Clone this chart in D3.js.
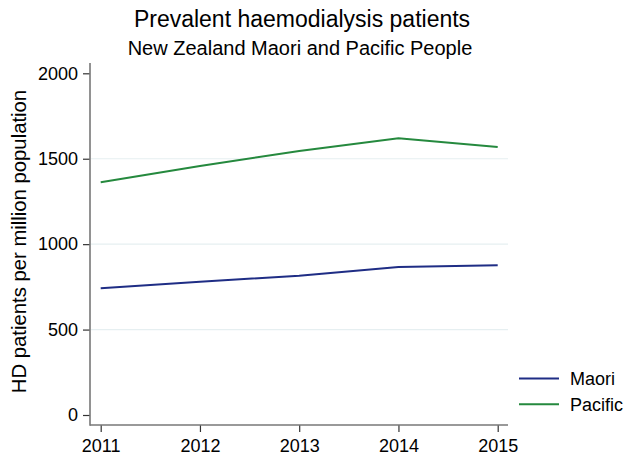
<!DOCTYPE html>
<html>
<head>
<meta charset="utf-8">
<script src="https://cdn.jsdelivr.net/npm/d3@7"></script>
<style>
  body { margin: 0; background: #fff; }
  text { font-family: "Liberation Sans", Arial, sans-serif; fill: #000; }
</style>
</head>
<body>
<svg id="chart" width="628" height="459"></svg>
<script>
var years = [2011, 2012, 2013, 2014, 2015];
var maori = [742, 780, 815, 866, 876];
var pacific = [1362, 1458, 1545, 1620, 1569];
var yTicks = [0, 500, 1000, 1500, 2000];
var gridTicks = [500, 1000, 1500];

var series = [
  { name: "Maori", values: maori, color: "#1f2d85" },
  { name: "Pacific", values: pacific, color: "#25893e" }
];

var svg = d3.select("#chart");

// plot region (note: "top" is reserved on window, so use plotTop)
var plotLeft = 90, plotRight = 508, plotTop = 63, plotBottom = 425;

var x = d3.scaleLinear().domain([2011, 2015]).range([100.7, 497.7]);
var y = d3.scaleLinear().domain([0, 2000]).range([415, 73.3]);

// titles
svg.append("text").attr("x", 302).attr("y", 27)
  .attr("text-anchor", "middle").style("font-size", "23px")
  .text("Prevalent haemodialysis patients");
svg.append("text").attr("x", 300).attr("y", 55)
  .attr("text-anchor", "middle").style("font-size", "20px")
  .text("New Zealand Maori and Pacific People");

// gridlines
svg.append("g").selectAll("line").data(gridTicks).enter().append("line")
  .attr("x1", plotLeft + 1).attr("x2", plotRight)
  .attr("y1", function(d){ return y(d); }).attr("y2", function(d){ return y(d); })
  .attr("stroke", "#e6eff1").attr("stroke-width", 1.2);

// y axis
var yAxis = d3.axisLeft(y).tickValues(yTicks).tickSize(7).tickPadding(5).tickFormat(d3.format("d"));
var gy = svg.append("g").attr("transform", "translate(" + plotLeft + ",0)").call(yAxis);
gy.select(".domain").remove();
gy.selectAll(".tick line").attr("stroke", "#333").attr("stroke-width", 1.2);
gy.selectAll(".tick text").style("font-size", "18px").style("font-family", "Liberation Sans, Arial, sans-serif");
svg.append("line").attr("x1", plotLeft).attr("x2", plotLeft).attr("y1", plotTop).attr("y2", plotBottom + 0.8)
  .attr("stroke", "#777").attr("stroke-width", 1.6);

// x axis
var xAxis = d3.axisBottom(x).tickValues(years).tickSize(7).tickPadding(7).tickFormat(d3.format("d"));
var gx = svg.append("g").attr("transform", "translate(0," + plotBottom + ")").call(xAxis);
gx.select(".domain").remove();
gx.selectAll(".tick line").attr("stroke", "#333").attr("stroke-width", 1.2);
gx.selectAll(".tick text").style("font-size", "18px").style("font-family", "Liberation Sans, Arial, sans-serif");
svg.append("line").attr("x1", plotLeft).attr("x2", plotRight).attr("y1", plotBottom).attr("y2", plotBottom)
  .attr("stroke", "#777").attr("stroke-width", 1.6);

// y label
svg.append("text")
  .attr("transform", "translate(26,241.5) rotate(-90)")
  .attr("text-anchor", "middle").style("font-size", "20.3px")
  .text("HD patients per million population");

// lines
var line = d3.line()
  .x(function(d, i){ return x(years[i]); })
  .y(function(d){ return y(d); });

svg.append("g").selectAll("path").data(series).enter().append("path")
  .attr("d", function(s){ return line(s.values); })
  .attr("fill", "none")
  .attr("stroke", function(s){ return s.color; })
  .attr("stroke-width", 2);

// legend
var leg = svg.append("g").selectAll("g").data(series).enter().append("g")
  .attr("transform", function(d, i){ return "translate(0," + (378.5 + i * 25.7) + ")"; });
leg.append("line").attr("x1", 519).attr("x2", 559).attr("y1", 0).attr("y2", 0)
  .attr("stroke", function(d){ return d.color; }).attr("stroke-width", 2);
leg.append("text").attr("x", 570).attr("y", 6.5).style("font-size", "18px")
  .text(function(d){ return d.name; });
</script>
</body>
</html>
